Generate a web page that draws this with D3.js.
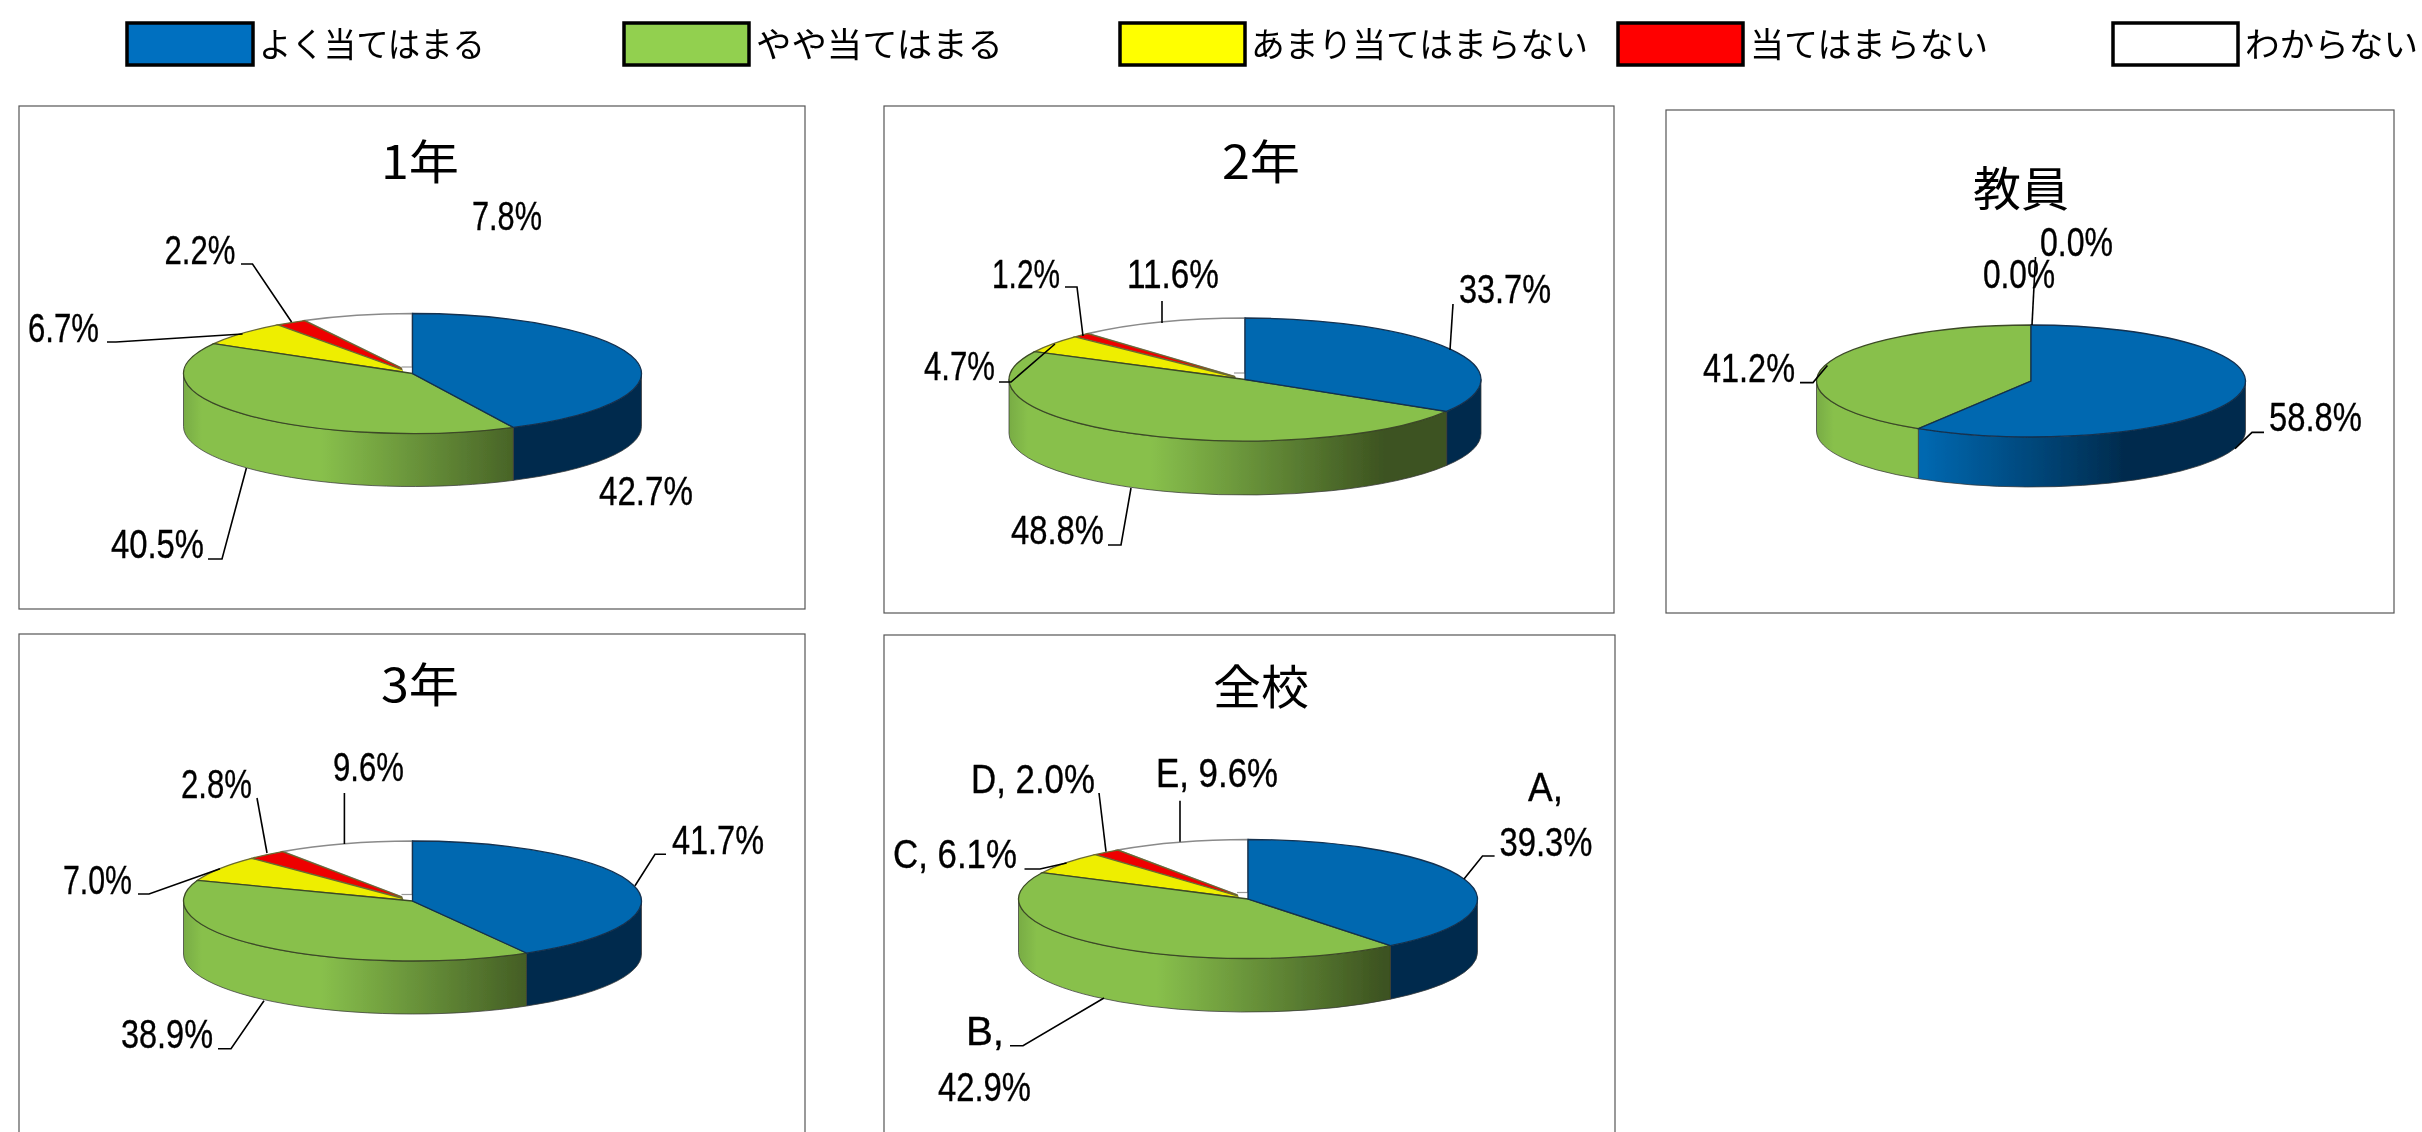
<!DOCTYPE html>
<html lang="ja"><head><meta charset="utf-8">
<script src="https://cdn.jsdelivr.net/npm/d3@7/dist/d3.min.js"></script>
<style>html,body{margin:0;padding:0;background:#fff;overflow:hidden}svg{display:block}</style>
</head><body><svg id="c" width="2422" height="1132"></svg>
<script>
// ---- data ----
const categories = ["よく当てはまる","やや当てはまる","あまり当てはまらない","当てはまらない","わからない"];
const values1 = [42.7,40.5,6.7,2.2,7.8];
const values2 = [33.7,48.8,4.7,1.2,11.6];
const valuesT = [58.8,41.2,0,0,0];
const values3 = [41.7,38.9,7.0,2.8,9.6];
const valuesA = [39.3,42.9,6.1,2.0,9.6];
const titles = ["1年","2年","教員","3年","全校"];
// ---- styles / layout ----
const topColors = ["#0068B0","#88C04C","#EEEE00","#EE0000","#FFFFFF"];
const legendColors = ["#0070C0","#92D050","#FFFF00","#FF0000","#FFFFFF"];
const legendLayout = [[127,126,259,226],[624,125,756,247],[1120,125,1251,337],[1618,125,1750,238],[2113,125,2245,173]];
const LF = "'Liberation Sans',Arial,sans-serif";
const JF = "'Noto Sans CJK JP',sans-serif";
const panels = [
 {values:values1,title:titles[0],box:[19,106,786,503],pie:[412.5,373.5,229,60,53],titleAt:[420,179,78],
  labels:[["42.7%",599,505,94],["40.5%",111,558,93],["6.7%",28,342,71],["2.2%",164.5,264,71],["7.8%",472,230,70]],
  leaders:[[[208,559],[222,559],[246.4,468]],[[107,342],[116,342],[242.6,334]],[[241,264],[252.5,264],[291.6,322]]]},
 {values:values2,title:titles[1],box:[884,106,730,507],pie:[1245,379.5,236,61.5,54],titleAt:[1261,179,78],
  labels:[["33.7%",1459,303,92],["48.8%",1011,543.5,93],["4.7%",924,380,71],["1.2%",992,288,68],["11.6%",1127,288,92]],
  leaders:[[[1453,304],[1450,350]],[[1108,545],[1121,545],[1131,488]],[[999,382],[1011,382],[1055,344]],[[1065,287],[1077,287],[1083,336]],[[1162,301],[1162,323]]]},
 {values:valuesT,title:titles[2],box:[1666,110,728,503],pie:[2031,381,214.5,56,50],titleAt:[2021,206,96],
  labels:[["58.8%",2269,431,93],["41.2%",1703,382,92],["0.0%",1983,288,72],["0.0%",2040,256,73]],
  leaders:[[[2264,432.4],[2252,432.4],[2235,448.6]],[[1800,382.6],[1813,382.6],[1827.4,365.6]],[[2035.5,257],[2032,325]]]},
 {values:values3,title:titles[3],box:[19,634,786,520],pie:[412.5,901,229,60,53],titleAt:[420,702,78],
  labels:[["41.7%",672,854,92],["38.9%",121,1047.7,92],["7.0%",63,894,69],["2.8%",181,797.7,71],["9.6%",333,781,71]],
  leaders:[[[666,854.3],[655,854.3],[635,885.7]],[[218,1048.7],[231,1048.7],[264,1000.7]],[[138,894],[149,894],[220,868.7]],[[257,798],[267,853]],[[344.4,793],[344.4,844]]]},
 {values:valuesA,title:titles[4],box:[884,635,731,520],pie:[1248,899,229.5,59.5,53.5],titleAt:[1261,704,96],
  labels:[["A,",1528,800.7,35],["39.3%",1499.5,856,93],["B,",966,1045,38],["42.9%",938,1100.7,93],["C, 6.1%",893,868,124],["D, 2.0%",971,792.7,124],["E, 9.6%",1156,787,122]],
  leaders:[[[1494.6,856],[1482.5,856],[1464,879]],[[1010,1045.7],[1023,1045.7],[1104,998]],[[1024.5,869],[1040,869],[1066.6,863]],[[1099,793],[1106,851.7]],[[1180,800.7],[1180,841.7]]]}
];
const svg = d3.select("#c");
const defs = svg.append("defs");
const blur = defs.append("filter").attr("id","soft");
blur.append("feGaussianBlur").attr("stdDeviation",0.45);
const root = svg.append("g").attr("filter","url(#soft)");

// legend
const lg = root.append("g");
categories.forEach((c,i)=>{
  const [x,w,tx,tw]=legendLayout[i];
  lg.append("rect").attr("x",x).attr("y",23).attr("width",w).attr("height",42)
    .attr("fill",legendColors[i]).attr("stroke","#000").attr("stroke-width",3.5);
  lg.append("text").attr("x",tx).attr("y",57).attr("font-family",JF).attr("font-size",34)
    .attr("fill","#000").attr("textLength",tw).attr("lengthAdjust","spacingAndGlyphs").text(c);
});

const pieGen = d3.pie().sort(null).value(d=>d);
const stopsGreen=[[0,"#78AC44"],[.04,"#88C04C"],[.3,"#88C04C"],[.8,"#3C5220"],[1,"#3C5220"]];
const stopsBlue=[[0,"#0068B0"],[.25,"#0068B0"],[.72,"#002B4D"],[1,"#002B4D"]];

panels.forEach((p,pi)=>{
  const g=root.append("g");
  const [bx,by,bw,bh]=p.box;
  g.append("rect").attr("x",bx).attr("y",by).attr("width",bw).attr("height",bh)
    .attr("fill","#fff").attr("stroke","#555").attr("stroke-width",1.2);
  const [cx,cy,rx,ry,depth]=p.pie;
  const arcs=pieGen(p.values);
  const px=a=>cx+rx*Math.sin(a), py=a=>cy-ry*Math.cos(a);

  // gradients
  [["g",stopsGreen],["b",stopsBlue]].forEach(([k,st])=>{
    const lgd=defs.append("linearGradient").attr("id",k+pi).attr("gradientUnits","userSpaceOnUse")
      .attr("x1",cx-rx).attr("x2",cx+rx).attr("y1",0).attr("y2",0);
    st.forEach(([o,c])=>lgd.append("stop").attr("offset",o).attr("stop-color",c));
  });

  // side walls (front half only)
  const lo=Math.PI/2, hi=Math.PI*1.5;
  arcs.slice(0,2).forEach((d,i)=>{
    const a0=Math.max(d.startAngle,lo), a1=Math.min(d.endAngle,hi);
    if(a1<=a0) return;
    const path=`M${px(a0)},${py(a0)}A${rx},${ry} 0 0 1 ${px(a1)},${py(a1)}`+
      `L${px(a1)},${py(a1)+depth}A${rx},${ry} 0 0 0 ${px(a0)},${py(a0)+depth}Z`;
    g.append("path").attr("d",path).attr("fill",`url(#${i==0?"b":"g"}${pi})`)
      .attr("stroke","#3a3a3a").attr("stroke-width",1).attr("stroke-opacity",.75);
  });

  // top face, drawn via d3.arc in circle space then flattened
  const arc=d3.arc().innerRadius(0).outerRadius(rx);
  const top=g.append("g").attr("transform",`translate(${cx},${cy}) scale(1,${ry/rx})`);
  const hasSmall=p.values[4]>0;
  [4,3,2,1,0].forEach(i=>{
    const d=arcs[i];
    if(d.value<=0) return;
    if(i==1&&hasSmall){
      top.append("polygon").attr("points",[[-11,-7*rx/ry],[0,-7*rx/ry],[0,0],[-9,-1*rx/ry]].join(" ")).attr("fill","#fff");
      top.append("line").attr("x1",-11).attr("x2",0).attr("y1",-6.5*rx/ry).attr("y2",-6.5*rx/ry)
        .attr("stroke","#999").attr("stroke-width",1.2).attr("vector-effect","non-scaling-stroke");
    }
    top.append("path").attr("d",arc(d)).attr("fill",topColors[i])
      .attr("stroke",i==4?"#8a8a8a":(i==0?"#12304f":(i==1?"#3c4a26":"#6a6a30")))
      .attr("stroke-width",i==4?1.6:1.3).attr("vector-effect","non-scaling-stroke");
  });
  // title
  g.append("text").attr("x",p.titleAt[0]-p.titleAt[2]/2).attr("y",p.titleAt[1])
    .attr("font-family",JF).attr("font-size",47).attr("fill","#000")
    .attr("textLength",p.titleAt[2]).attr("lengthAdjust","spacingAndGlyphs").text(p.title);
  // leaders
  const line=d3.line();
  p.leaders.forEach(l=>g.append("path").attr("d",line(l)).attr("fill","none").attr("stroke","#000").attr("stroke-width",1.6));
  // labels
  p.labels.forEach(([t,x,y,w])=>g.append("text").attr("x",x).attr("y",y)
    .attr("font-family",LF).attr("font-size",40).attr("fill","#000").attr("stroke","#000").attr("stroke-width",0.35)
    .attr("textLength",w).attr("lengthAdjust","spacingAndGlyphs").text(t));
});
</script></body></html>
